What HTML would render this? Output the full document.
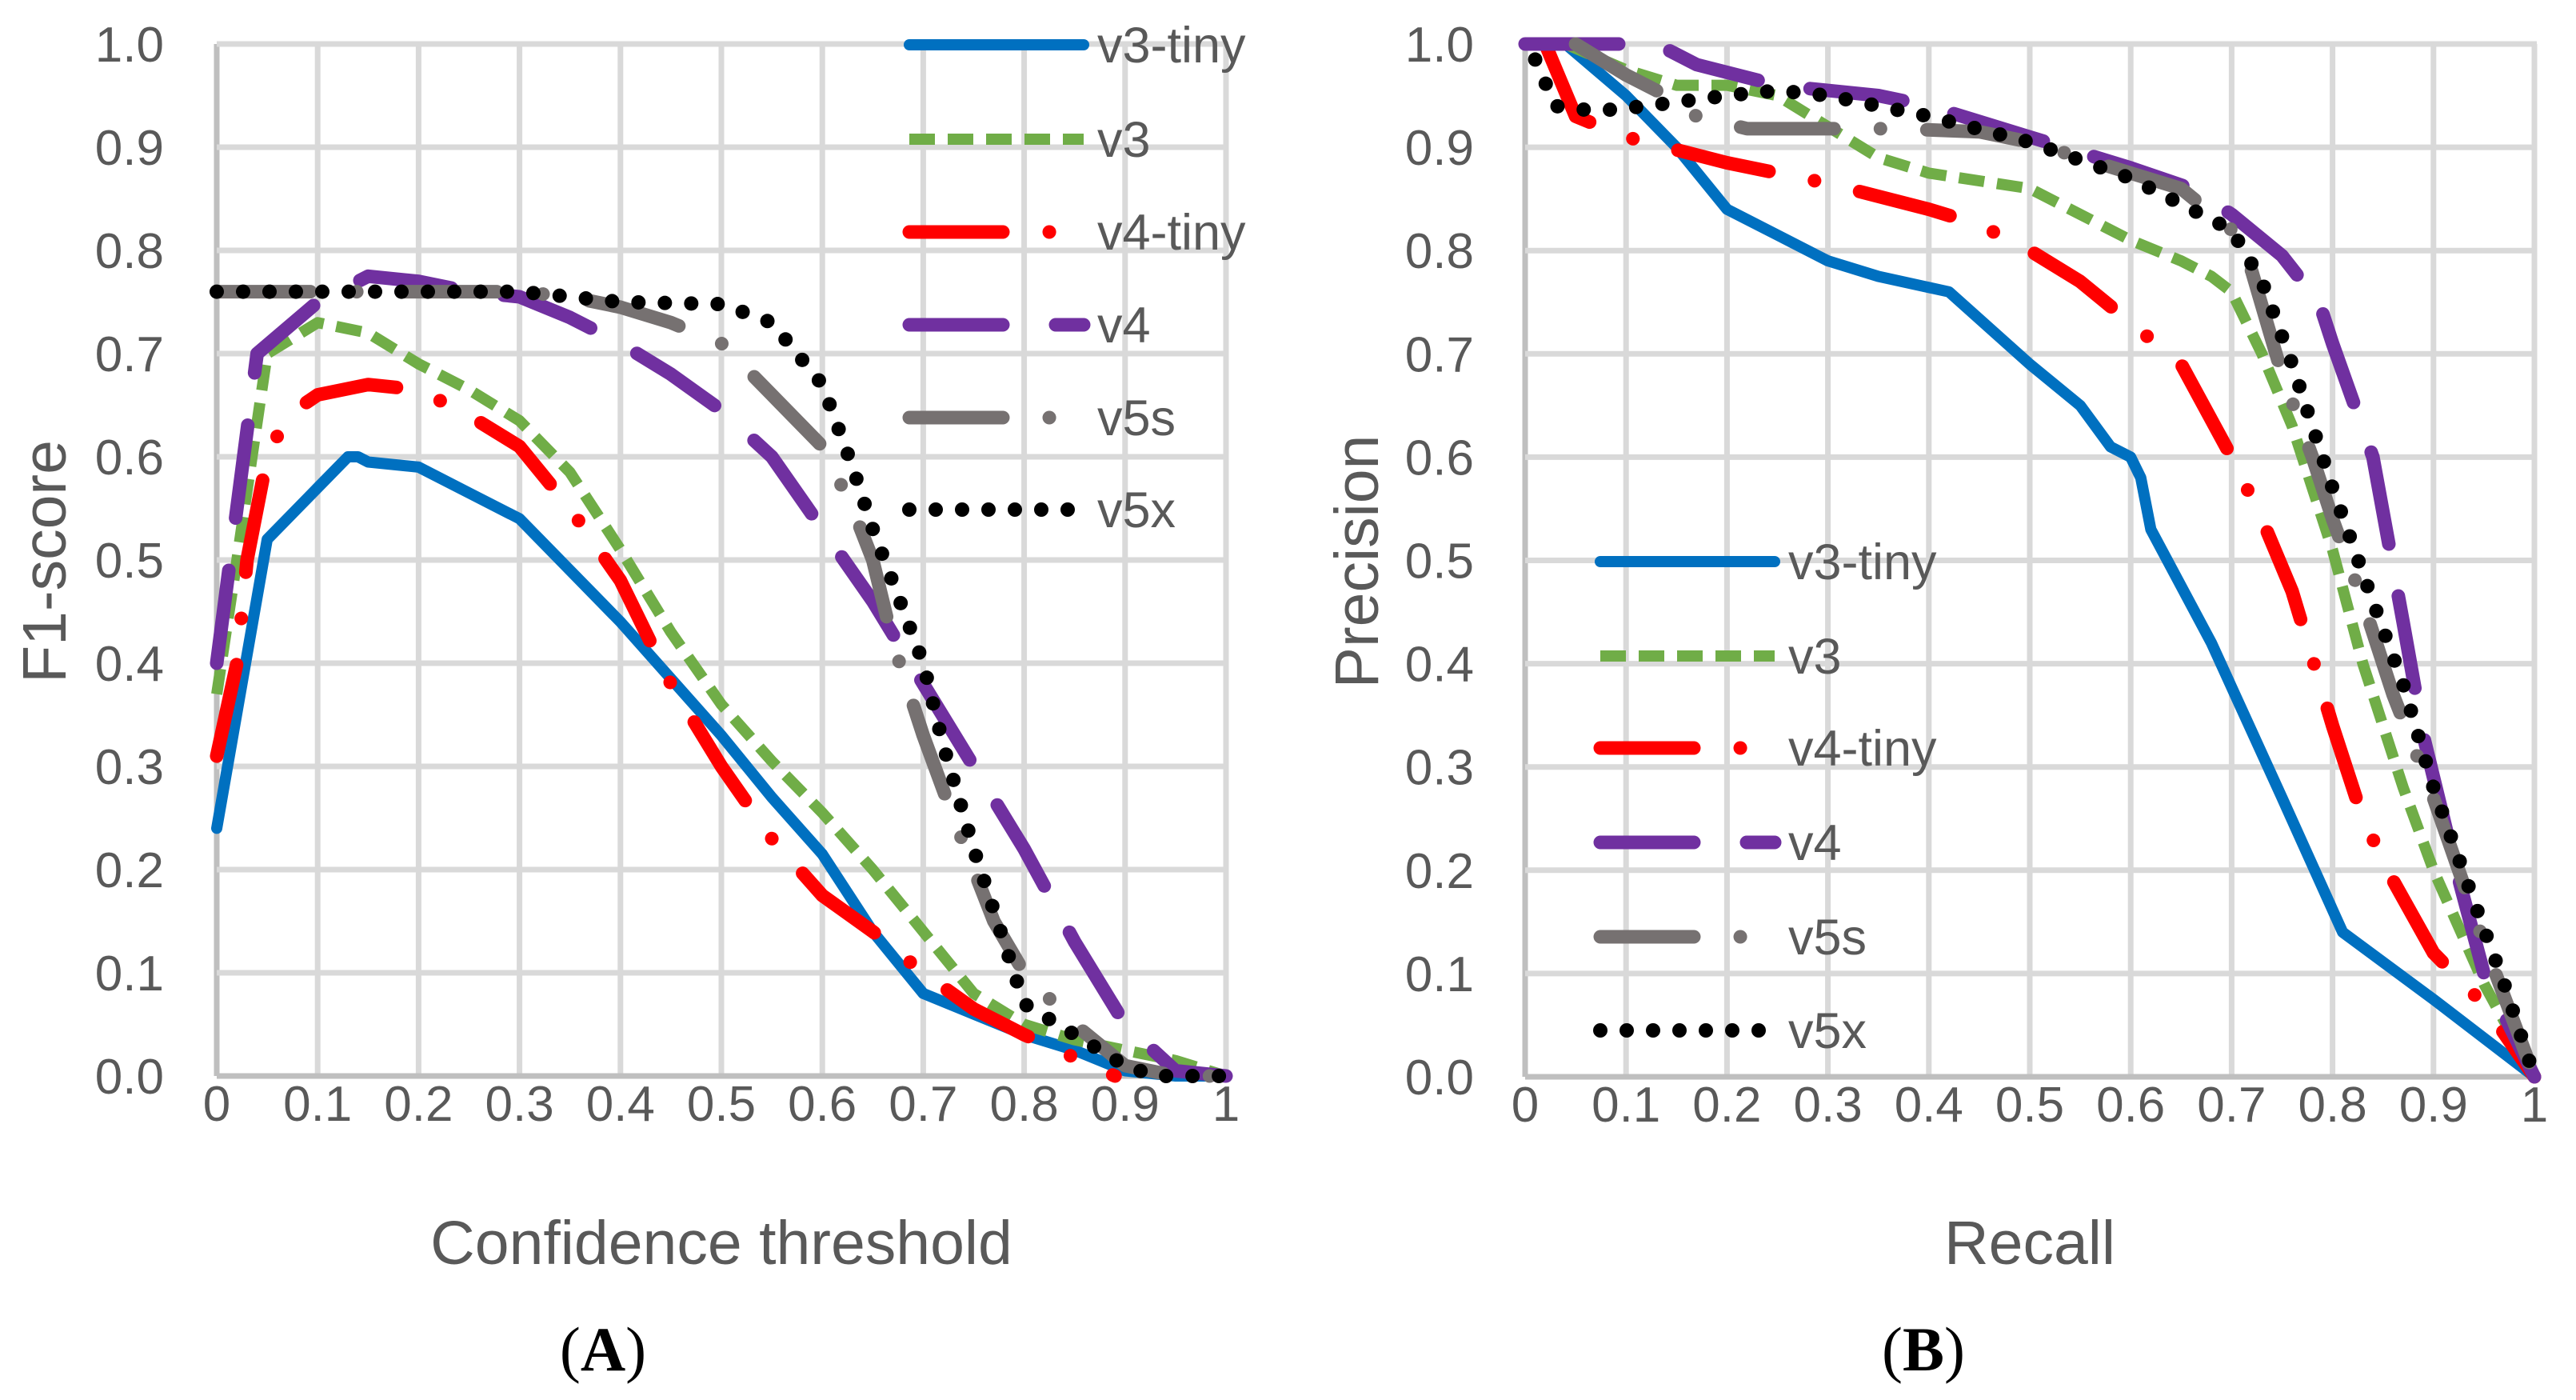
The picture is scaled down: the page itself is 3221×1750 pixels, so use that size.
<!DOCTYPE html>
<html><head><meta charset="utf-8"><style>
html,body{margin:0;padding:0;background:#fff;}
svg{display:block;}
text{font-family:"Liberation Sans",sans-serif;fill:#595959;}
</style></head><body>
<svg id="root" width="3221" height="1750" viewBox="0 0 3221 1750">
<g id="chartA"></g>
<g id="chartB"></g>
<text x="754" y="1713" text-anchor="middle" style="font-family:'Liberation Serif',serif;font-size:78px;fill:#000">(<tspan font-weight="bold">A</tspan>)</text>
<text x="2405" y="1713" text-anchor="middle" style="font-family:'Liberation Serif',serif;font-size:78px;fill:#000">(<tspan font-weight="bold">B</tspan>)</text>
</svg>
<script>
const seriesNames = ["v3-tiny","v3","v4-tiny","v4","v5s","v5x"];
const xTicks = ["0","0.1","0.2","0.3","0.4","0.5","0.6","0.7","0.8","0.9","1"];
const yTicks = ["0.0","0.1","0.2","0.3","0.4","0.5","0.6","0.7","0.8","0.9","1.0"];
// Chart A: F1 vs confidence threshold
const aV3tinyX=[0,0.05,0.1,0.13,0.14,0.15,0.2,0.25,0.3,0.35,0.4,0.45,0.5,0.55,0.6,0.65,0.7,0.75,0.8,0.85,0.9,0.95,1];
const aV3tinyY=[0.24,0.52,0.57,0.6,0.6,0.595,0.59,0.565,0.54,0.49,0.44,0.385,0.33,0.27,0.215,0.14,0.08,0.06,0.04,0.025,0.005,0,0];
const aV3X=[0,0.02,0.05,0.1,0.15,0.2,0.25,0.3,0.35,0.4,0.45,0.5,0.55,0.6,0.65,0.7,0.75,0.8,0.85,0.9,0.95,1];
const aV3Y=[0.37,0.5,0.7,0.73,0.72,0.69,0.665,0.635,0.585,0.51,0.43,0.36,0.305,0.255,0.2,0.14,0.08,0.05,0.035,0.025,0.015,0];
const aV4tinyX=[0,0.02,0.03,0.05,0.07,0.1,0.15,0.2,0.25,0.3,0.35,0.4,0.45,0.5,0.55,0.6,0.65,0.7,0.75,0.8,0.89];
const aV4tinyY=[0.31,0.4,0.5,0.6,0.64,0.66,0.67,0.665,0.64,0.61,0.55,0.48,0.38,0.3,0.23,0.175,0.14,0.1,0.065,0.04,0];
const aV4X=[0,0.02,0.04,0.1,0.15,0.2,0.25,0.3,0.35,0.4,0.45,0.5,0.55,0.6,0.65,0.7,0.75,0.8,0.85,0.9,0.95,1];
const aV4Y=[0.4,0.55,0.7,0.75,0.775,0.77,0.76,0.755,0.735,0.71,0.68,0.645,0.6,0.53,0.46,0.38,0.3,0.22,0.13,0.05,0.005,0];
const aV5sX=[0,0.1,0.2,0.3,0.35,0.4,0.45,0.5,0.55,0.6,0.63,0.65,0.67,0.7,0.73,0.75,0.77,0.8,0.85,0.9,0.95,1];
const aV5sY=[0.76,0.76,0.76,0.76,0.755,0.745,0.73,0.71,0.66,0.61,0.55,0.5,0.42,0.33,0.25,0.2,0.15,0.1,0.05,0.01,0,0];
const aV5xX=[0,0.3,0.35,0.4,0.5,0.55,0.6,0.63,0.65,0.7,0.72,0.75,0.78,0.8,0.85,0.9,0.93,1];
const aV5xY=[0.76,0.76,0.755,0.75,0.748,0.73,0.67,0.59,0.53,0.4,0.32,0.22,0.13,0.07,0.04,0.01,0,0];
// Chart B: precision vs recall
const bV3tinyX=[0.04,0.1,0.15,0.2,0.25,0.3,0.35,0.42,0.5,0.55,0.58,0.6,0.61,0.62,0.68,0.75,0.81,0.9,1];
const bV3tinyY=[1,0.95,0.9,0.84,0.815,0.79,0.775,0.76,0.69,0.65,0.61,0.6,0.58,0.53,0.42,0.27,0.14,0.075,0];
const bV3X=[0.04,0.1,0.15,0.2,0.25,0.3,0.35,0.4,0.5,0.55,0.6,0.65,0.68,0.7,0.73,0.76,0.8,0.83,0.87,0.9,0.95,1];
const bV3Y=[1,0.975,0.96,0.96,0.95,0.92,0.89,0.875,0.86,0.835,0.81,0.79,0.775,0.76,0.7,0.63,0.51,0.4,0.28,0.2,0.09,0];
const bV4tinyX=[0.02,0.05,0.1,0.2,0.3,0.4,0.45,0.5,0.55,0.6,0.65,0.7,0.73,0.76,0.8,0.83,0.86,0.9,0.95,1];
const bV4tinyY=[1,0.93,0.91,0.885,0.865,0.84,0.825,0.8,0.77,0.73,0.69,0.6,0.54,0.47,0.34,0.25,0.19,0.12,0.07,0];
const bV4X=[0,0.13,0.17,0.25,0.3,0.35,0.4,0.5,0.6,0.66,0.7,0.75,0.77,0.78,0.8,0.84,0.87,0.89,0.92,0.95,1];
const bV4Y=[1,1,0.98,0.96,0.955,0.95,0.94,0.91,0.88,0.86,0.835,0.795,0.77,0.77,0.71,0.6,0.44,0.33,0.21,0.1,0];
const bV5sX=[0.05,0.1,0.13,0.17,0.22,0.3,0.37,0.45,0.5,0.55,0.6,0.65,0.7,0.72,0.75,0.78,0.8,0.83,0.86,0.9,0.95,1];
const bV5sY=[1,0.97,0.955,0.93,0.918,0.918,0.918,0.915,0.905,0.89,0.875,0.86,0.82,0.78,0.68,0.6,0.54,0.46,0.37,0.27,0.13,0];
const bV5xX=[0.01,0.03,0.07,0.12,0.2,0.25,0.3,0.4,0.5,0.6,0.65,0.7,0.73,0.76,0.8,0.84,0.87,0.9,0.94,0.97,1];
const bV5xY=[0.985,0.94,0.935,0.94,0.95,0.955,0.95,0.93,0.905,0.87,0.845,0.82,0.77,0.69,0.57,0.46,0.38,0.28,0.17,0.09,0];

const NS="http://www.w3.org/2000/svg";
const styles=[
 {c:"#0070C0",w:14,d:"",cap:"round"},
 {c:"#70AD47",w:14,d:"32 16",cap:"butt"},
 {c:"#FF0000",w:17,d:"117 58 0.1 58",cap:"round"},
 {c:"#7030A0",w:17,d:"117 66",cap:"round"},
 {c:"#767171",w:17,d:"117 58 0.1 58",cap:"round"},
 {c:"#000000",w:18,d:"0 33",cap:"round"}
];
function mk(parent,tag,attrs){const e=document.createElementNS(NS,tag);for(const k in attrs)e.setAttribute(k,attrs[k]);parent.appendChild(e);return e;}
function drawChart(g,x0,x1,y0,y1,xs,ys,xTitle,yTitle,yTitleX,tickRight,legend){
  const sx=v=>x0+v*(x1-x0), sy=v=>y0-v*(y0-y1);
  for(let i=0;i<xTicks.length;i++){
    const l=mk(g,"line",{x1:sx(i/10),x2:sx(i/10),y1:y1,y2:y0,stroke:i==0?"#bfbfbf":"#d9d9d9","stroke-width":7});
    
    
    const t=mk(g,"text",{x:sx(i/10),y:y0+56,"text-anchor":"middle","font-size":62});
    t.textContent=xTicks[i];
    
    
  }
  for(let i=0;i<yTicks.length;i++){
    const l=mk(g,"line",{x1:x0,x2:x1+3,y1:sy(i/10),y2:sy(i/10),stroke:i==0?"#bfbfbf":"#d9d9d9","stroke-width":7});
    
    
    const t=mk(g,"text",{x:tickRight,y:sy(i/10)+22,"text-anchor":"end","font-size":62});
    t.textContent=yTicks[i];
    
    
  }
  const xt=mk(g,"text",{x:(x0+x1)/2,y:1580,"text-anchor":"middle","font-size":77});
  xt.textContent=xTitle;
  
  
  const yt=mk(g,"text",{x:0,y:0,"text-anchor":"middle","font-size":77,transform:`translate(${yTitleX},702) rotate(-90)`});
  yt.textContent=yTitle;
  
  
  for(let s=0;s<6;s++){
    const st=styles[s];
    const pts=xs[s].map((v,i)=>sx(v).toFixed(1)+","+sy(ys[s][i]).toFixed(1)).join(" ");
    const p=mk(g,"polyline",{points:pts,fill:"none",stroke:st.c,"stroke-width":st.w,"stroke-dasharray":st.d,"stroke-linecap":st.cap,"stroke-linejoin":"round"});
    
    
  }
  for(let s=0;s<6;s++){
    const st=styles[s], ly=legend.y[s];
    const l=mk(g,"line",{x1:legend.x+9,x2:legend.x+227,y1:ly,y2:ly,stroke:st.c,"stroke-width":st.w,"stroke-dasharray":st.d,"stroke-linecap":st.cap});
    
    
    const t=mk(g,"text",{x:legend.x+244,y:ly+22,"font-size":63});
    t.textContent=seriesNames[s];
    
    
  }
}
drawChart(document.getElementById("chartA"),271,1533,1345,55,
 [aV3tinyX,aV3X,aV4tinyX,aV4X,aV5sX,aV5xX],[aV3tinyY,aV3Y,aV4tinyY,aV4Y,aV5sY,aV5xY],
 "Confidence threshold","F1-score",82,205,{x:1128,y:[56,174,290,406,522,637]});
drawChart(document.getElementById("chartB"),1907,3169,1346,55,
 [bV3tinyX,bV3X,bV4tinyX,bV4X,bV5sX,bV5xX],[bV3tinyY,bV3Y,bV4tinyY,bV4Y,bV5sY,bV5xY],
 "Recall","Precision",1723,1843,{x:1992,y:[702,820,935,1053,1171,1288]});
</script>
</body></html>
